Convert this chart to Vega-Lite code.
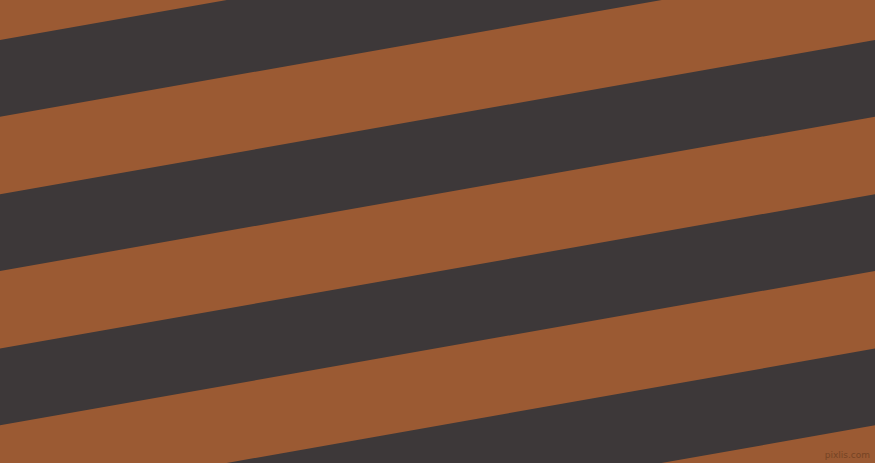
{
  "$schema": "https://vega.github.io/schema/vega-lite/v6.json",
  "width": 875,
  "height": 463,
  "autosize": {"type": "fit", "contains": "padding"},
  "padding": 0,
  "background": "#9b5a33",
  "datasets": {
    "stripes": [
      {"stripe": 1, "x": 0, "top": 40, "bottom": 116.7},
      {"stripe": 1, "x": 875, "top": -114.3, "bottom": -37.6},
      {"stripe": 2, "x": 0, "top": 194.3, "bottom": 271},
      {"stripe": 2, "x": 875, "top": 40, "bottom": 116.7},
      {"stripe": 3, "x": 0, "top": 348.6, "bottom": 425.3},
      {"stripe": 3, "x": 875, "top": 194.3, "bottom": 271},
      {"stripe": 4, "x": 0, "top": 503, "bottom": 579.7},
      {"stripe": 4, "x": 875, "top": 348.6, "bottom": 425.3}
    ],
    "mark": [
      {"label": "pixlis.com", "x": 870, "y": 455}
    ]
  },
  "layer": [
    {
      "data": {"name": "stripes"},
      "mark": {"type": "area", "color": "#3d3839", "clip": true, "interpolate": "linear"},
      "encoding": {
        "x": {"field": "x", "type": "quantitative", "scale": {"domain": [0, 875], "nice": false, "zero": false}, "axis": null},
        "y": {"field": "top", "type": "quantitative", "scale": {"domain": [0, 463], "reverse": true, "nice": false, "zero": false}, "axis": null},
        "y2": {"field": "bottom"},
        "detail": {"field": "stripe", "type": "nominal"}
      }
    },
    {
      "data": {"name": "mark"},
      "mark": {"type": "text", "align": "right", "baseline": "middle", "fontSize": 9, "font": "DejaVu Sans", "color": "#6e3f22", "opacity": 0.8},
      "encoding": {
        "x": {"field": "x", "type": "quantitative"},
        "y": {"field": "y", "type": "quantitative"},
        "text": {"field": "label"}
      }
    }
  ],
  "config": {
    "view": {"stroke": null}
  }
}
